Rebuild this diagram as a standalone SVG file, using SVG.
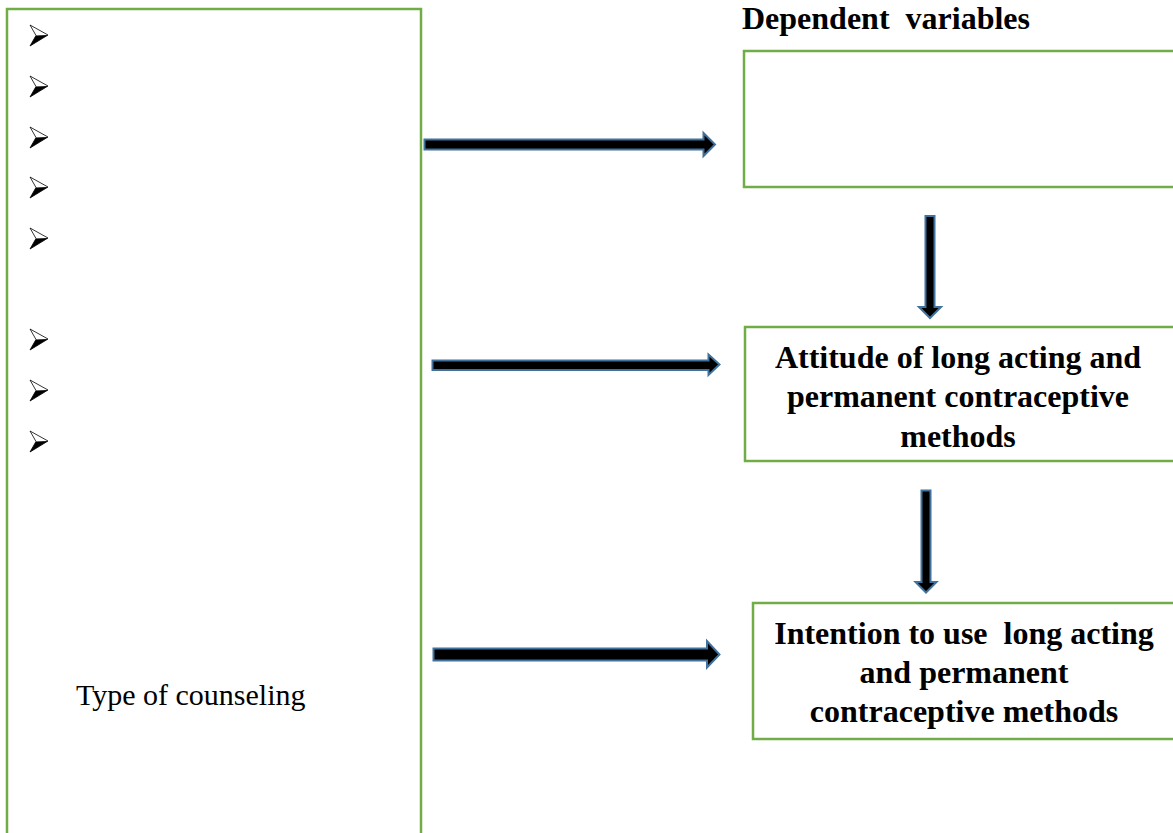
<svg xmlns="http://www.w3.org/2000/svg" width="1173" height="833" viewBox="0 0 1173 833">
<style>
.box{fill:#fff;stroke:#70AD47;stroke-width:2.5}
.arr{fill:#000;stroke:#41719C;stroke-width:2;stroke-linejoin:miter}
.b{font-family:"Liberation Serif","Times New Roman",serif;font-weight:bold;font-size:32px;fill:#000}
.r{font-family:"Liberation Serif","Times New Roman",serif;font-size:30px;fill:#000}
.bul-top{fill:#fff;stroke:#000;stroke-width:0.8}
.bul-bot{fill:#000}
</style>
<defs>
<g id="bullet">
<polygon class="bul-top" points="0,-10 18,0 0,11 6,0.5"/>
<polygon class="bul-bot" points="6,0.5 18,0 0,11"/>
</g>
</defs>
<rect width="1173" height="833" fill="#fff"/>

<g id="independent">
<rect class="box" x="7" y="9" width="414" height="840"/>
<use href="#bullet" x="30" y="35"/>
<use href="#bullet" x="30" y="86"/>
<use href="#bullet" x="30" y="137"/>
<use href="#bullet" x="30" y="187"/>
<use href="#bullet" x="30" y="238"/>
<use href="#bullet" x="30" y="339"/>
<use href="#bullet" x="30" y="390"/>
<use href="#bullet" x="30" y="441"/>
<text class="r" x="76" y="705">Type of counseling</text>
</g>

<g id="title">
<text class="b" x="742" y="29" font-size="31" xml:space="preserve">Dependent  variables</text>
</g>

<g id="dep-top">
<rect class="box" x="744" y="51" width="440" height="136"/>
</g>

<g id="attitude">
<rect class="box" x="745" y="327" width="440" height="134"/>
<text class="b" x="958" y="368" text-anchor="middle">Attitude of long acting and</text>
<text class="b" x="958" y="407" text-anchor="middle">permanent contraceptive</text>
<text class="b" x="958" y="447" text-anchor="middle">methods</text>
</g>

<g id="intention">
<rect class="box" x="753" y="603" width="440" height="136"/>
<text class="b" x="964" y="644" text-anchor="middle" xml:space="preserve">Intention to use  long acting</text>
<text class="b" x="964" y="683" text-anchor="middle">and permanent</text>
<text class="b" x="964" y="722" text-anchor="middle">contraceptive methods</text>
</g>

<g id="connectors">
<polygon class="arr" points="424.5,139.5 703.5,139.5 703.5,133 715,144.5 703.5,156 703.5,149.5 424.5,149.5"/>
<polygon class="arr" points="432.5,360.5 708.5,360.5 708.5,354.5 719.5,364.5 708.5,375 708.5,370 432.5,370"/>
<polygon class="arr" points="433.5,648.5 707,648.5 707,641 719.5,654.5 707,667.5 707,660.5 433.5,660.5"/>
<polygon class="arr" points="925.5,216 934.5,216 934.5,307 941,307 930,318 919,307 925.5,307"/>
<polygon class="arr" points="921.5,490.5 930.5,490.5 930.5,582 936.5,582 926,592.5 915.5,582 921.5,582"/>
</g>
</svg>
